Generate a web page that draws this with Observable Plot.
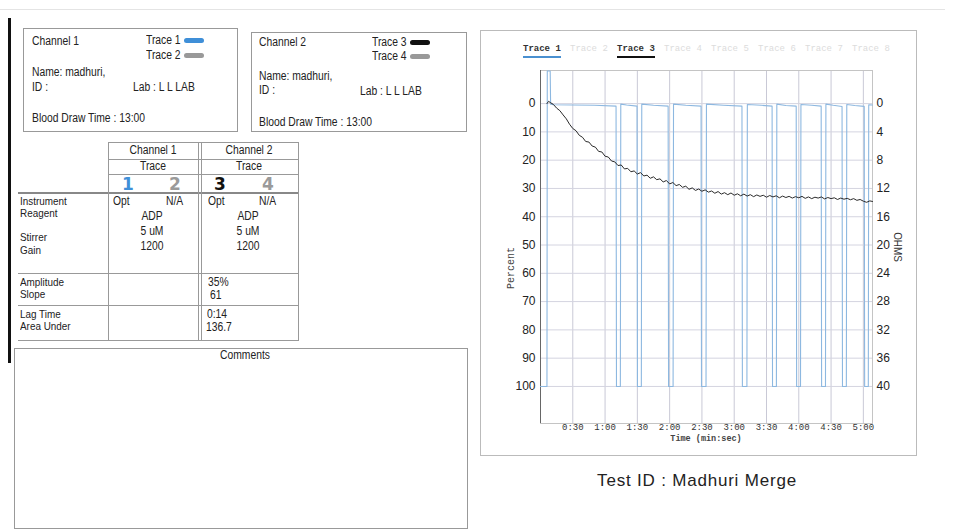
<!DOCTYPE html>
<html>
<head>
<meta charset="utf-8">
<script src="https://cdn.jsdelivr.net/npm/d3@7"></script>
<script src="https://cdn.jsdelivr.net/npm/@observablehq/plot@0.6"></script>
<style>
  html, body { margin: 0; padding: 0; background: #fff; }
  #page { position: relative; width: 963px; height: 529px; overflow: hidden; background: #fff;
          font-family: "Liberation Sans", sans-serif; color: #222; }
  .t { position: absolute; font-size: 12px; line-height: 13px; white-space: nowrap; transform: scaleX(0.86); transform-origin: 0 50%; }
  .s { font-size: 11.5px; line-height: 11px; }
  .box { position: absolute; border: 1px solid #999; box-sizing: border-box; }
  .hl { position: absolute; height: 0; border-top: 1px solid #999; }
  .vl { position: absolute; width: 0; border-left: 1px solid #999; }
  .sw { position: absolute; height: 5px; width: 20px; border-radius: 3px; }
  .big { position: absolute; font-family: "DejaVu Sans", sans-serif; font-weight: 900; font-size: 17px; line-height: 18px; }
  .leg { position: absolute; font-family: "Liberation Mono", "DejaVu Sans Mono", monospace; font-size: 9px; font-weight: bold; line-height: 10px; white-space: nowrap; }
  .t.c { transform: translateX(-50%) scaleX(0.86); transform-origin: 50% 50%; }
  .leg.c { transform: translateX(-50%); }
</style>
</head>
<body>
<div id="page">
  <!-- scan artifacts -->
  <div style="position:absolute;left:0;top:9px;width:945px;height:1px;background:#e4e4e4"></div>
  <div style="position:absolute;left:8px;top:18px;width:3px;height:345px;background:#111"></div>

  <!-- Channel 1 box -->
  <div class="box" style="left:23px;top:28px;width:215px;height:104px"></div>
  <div class="t" style="left:32px;top:35px">Channel 1</div>
  <div class="t" style="left:146px;top:34px">Trace 1</div>
  <div class="sw" style="left:184px;top:38px;background:#3f8fd8"></div>
  <div class="t" style="left:146px;top:49px">Trace 2</div>
  <div class="sw" style="left:184px;top:53px;background:#999"></div>
  <div class="t" style="left:32px;top:66px">Name: madhuri,</div>
  <div class="t" style="left:32px;top:81px">ID :</div>
  <div class="t" style="left:133px;top:81px">Lab : L L LAB</div>
  <div class="t" style="left:32px;top:112px">Blood Draw Time : 13:00</div>

  <!-- Channel 2 box -->
  <div class="box" style="left:251px;top:32px;width:216px;height:100px"></div>
  <div class="t" style="left:259px;top:36px">Channel 2</div>
  <div class="t" style="left:372px;top:36px">Trace 3</div>
  <div class="sw" style="left:410px;top:40px;background:#111"></div>
  <div class="t" style="left:372px;top:50px">Trace 4</div>
  <div class="sw" style="left:410px;top:54px;background:#999"></div>
  <div class="t" style="left:259px;top:70px">Name: madhuri,</div>
  <div class="t" style="left:259px;top:84px">ID :</div>
  <div class="t" style="left:360px;top:85px">Lab : L L LAB</div>
  <div class="t" style="left:259px;top:116px">Blood Draw Time : 13:00</div>

  <!-- Parameter table -->
  <div class="hl" style="left:108px;top:142px;width:191px"></div>
  <div class="hl" style="left:108px;top:159px;width:191px"></div>
  <div class="hl" style="left:108px;top:174px;width:191px"></div>
  <div class="hl" style="left:18px;top:192px;width:281px;border-top:2px solid #888"></div>
  <div class="hl" style="left:18px;top:273px;width:281px"></div>
  <div class="hl" style="left:18px;top:305px;width:281px"></div>
  <div class="hl" style="left:18px;top:340px;width:281px"></div>
  <div class="vl" style="left:108px;top:142px;height:199px"></div>
  <div class="vl" style="left:198px;top:142px;height:199px"></div>
  <div class="vl" style="left:201px;top:142px;height:199px"></div>
  <div class="vl" style="left:298px;top:142px;height:199px"></div>

  <div class="t c" style="left:153px;top:144px">Channel 1</div>
  <div class="t c" style="left:153px;top:160px">Trace</div>
  <div class="big" style="left:122px;top:175px;color:#3f8fd8">1</div>
  <div class="big" style="left:169px;top:175px;color:#9a9a9a">2</div>
  <div class="t c" style="left:249px;top:144px">Channel 2</div>
  <div class="t c" style="left:249px;top:160px">Trace</div>
  <div class="big" style="left:214px;top:175px;color:#111">3</div>
  <div class="big" style="left:262px;top:175px;color:#9a9a9a">4</div>

  <div class="t s" style="left:20px;top:196px">Instrument</div>
  <div class="t s" style="left:20px;top:208px">Reagent</div>
  <div class="t s" style="left:20px;top:232px">Stirrer</div>
  <div class="t s" style="left:20px;top:245px">Gain</div>
  <div class="t s" style="left:20px;top:277px">Amplitude</div>
  <div class="t s" style="left:20px;top:289px">Slope</div>
  <div class="t s" style="left:20px;top:309px">Lag Time</div>
  <div class="t s" style="left:20px;top:321px">Area Under</div>

  <div class="t" style="left:113px;top:195px">Opt</div>
  <div class="t" style="left:166px;top:195px">N/A</div>
  <div class="t c" style="left:152px;top:210px">ADP</div>
  <div class="t c" style="left:152px;top:225px">5 uM</div>
  <div class="t c" style="left:152px;top:240px">1200</div>

  <div class="t" style="left:208px;top:195px">Opt</div>
  <div class="t" style="left:259px;top:195px">N/A</div>
  <div class="t c" style="left:248px;top:210px">ADP</div>
  <div class="t c" style="left:248px;top:225px">5 uM</div>
  <div class="t c" style="left:248px;top:240px">1200</div>

  <div class="t" style="left:208px;top:276px">35%</div>
  <div class="t" style="left:210px;top:289px">61</div>
  <div class="t" style="left:207px;top:308px">0:14</div>
  <div class="t" style="left:206px;top:321px">136.7</div>

  <!-- Comments -->
  <div class="box" style="left:14px;top:348px;width:454px;height:181px"></div>
  <div class="t c" style="left:245px;top:349px">Comments</div>

  <!-- Chart panel -->
  <div class="box" style="left:480px;top:30px;width:437px;height:426px;border-color:#bbb"></div>
  <div id="legend"></div>
  <div id="chart" style="position:absolute;left:480px;top:30px"></div>
  <div class="leg" style="left:512px;top:268px;transform:translate(-50%,-50%) rotate(-90deg);font-weight:normal;font-size:10px;color:#444">Percent</div>
  <div style="position:absolute;left:898px;top:247px;transform:translate(-50%,-50%) rotate(90deg) scaleX(0.9);font-size:11px;line-height:12px;color:#333">OHMS</div>
  <div class="leg c" style="left:706px;top:434px;font-size:8.5px;color:#444">Time (min:sec)</div>

  <div style="position:absolute;left:697px;top:471px;transform:translateX(-50%);font-family:'Liberation Sans',sans-serif;font-size:17px;letter-spacing:0.8px;white-space:nowrap;color:#222">Test ID : Madhuri Merge</div>
</div>

<script>
// ---------------- data ----------------
const legendNames = ["Trace 1","Trace 2","Trace 3","Trace 4","Trace 5","Trace 6","Trace 7","Trace 8"];
const legendActive = [true,false,true,false,false,false,false,false];
const legendColors = ["#4a90d0",null,"#111",null,null,null,null,null];

const percentTicks = [0,10,20,30,40,50,60,70,80,90,100];
const ohmsTicks = [0,4,8,12,16,20,24,28,32,36,40];
const timeTicks = [30,60,90,120,150,180,210,240,270,300];
const timeLabels = ["0:30","1:00","1:30","2:00","2:30","3:00","3:30","4:00","4:30","5:00"];

// Trace 1 (blue, optical baseline with periodic dropouts) : time s, percent
const trace1Time = [0,6,6.3,9,9.4,12,30,50,70.2,70.6,74.2,74.6,80,89.7,90.1,93.7,94.1,105,118.6,119,123.2,123.6,135,149.2,149.6,153.8,154.2,170,187.2,187.6,191.8,192.2,205,215.2,215.6,219.2,219.6,228,237.6,238,241.6,242,252,260.8,261.2,264.8,265.2,272,280.2,280.6,284.2,284.6,292,300.8,301.2,304.6,305,308.5];
const trace1Pct  = [100,100,-11.5,-11.5,0.2,0.4,0.5,0.6,0.9,100,100,0.2,0.5,0.9,100,100,0.2,0.6,0.9,100,100,0.2,0.6,0.9,100,100,0.2,0.6,0.9,100,100,0.3,0.6,0.9,100,100,0.2,0.7,0.9,100,100,0.3,0.6,0.9,100,100,0.2,0.6,1.0,100,100,0.3,0.7,1.0,100,100,0.4,0.5];

// Trace 3 (black, aggregation curve) : time s, percent
const trace3Time = [6,7.5,9,12,15,18,21,24,27,30,33,36,39,42,45,48,51,54,57,60,63,66,69,72,75,78,81,84,87,90,93,96,99,102,105,108,111,114,117,120,123,126,129,132,135,138,141,144,147,150,153,156,159,162,165,168,171,174,177,180,183,186,189,192,195,198,201,204,207,210,213,216,219,222,225,228,231,234,237,240,243,246,249,252,255,258,261,264,267,270,273,276,279,282,285,288,291,294,297,300,303,306,308.5];
const trace3Pct  = [0,-0.8,-0.4,0.3,1.6,2.5,4.0,5.4,7.3,8.8,9.6,11.2,11.9,13.4,13.6,15.0,15.4,16.9,17.1,18.6,18.9,20.3,20.6,21.9,21.7,23.1,22.9,24.1,23.8,24.9,24.4,25.6,25.3,26.4,25.9,26.9,26.6,27.7,27.2,28.4,27.9,29.0,28.6,29.6,29.2,30.3,29.8,30.7,30.2,31.0,30.5,31.3,30.9,31.7,31.1,32.0,31.5,32.2,31.6,32.4,31.9,32.6,32.0,32.7,32.2,32.9,32.3,32.8,32.4,33.1,32.5,33.0,32.6,33.3,32.7,33.2,32.8,33.4,32.9,33.3,32.8,33.5,33.0,33.6,33.1,33.4,33.0,33.7,33.2,33.6,33.3,33.9,33.4,33.8,33.5,34.0,33.6,34.2,33.9,34.5,34.9,34.4,34.6];

// ---------------- legend ----------------
const legend = document.getElementById("legend");
legendNames.forEach((n, i) => {
  const d = document.createElement("div");
  d.className = "leg";
  d.textContent = n;
  d.style.left = (523 + i * 47) + "px";
  d.style.top = "44px";
  d.style.color = legendActive[i] ? "#333" : "#dcdcdc";
  d.style.fontWeight = legendActive[i] ? "bold" : "normal";
  if (legendColors[i]) {
    d.style.borderBottom = "2px solid " + legendColors[i];
    d.style.paddingBottom = "2px";
  }
  legend.appendChild(d);
});

// ---------------- chart ----------------
const t1 = trace1Time.map((t, i) => ({t, p: trace1Pct[i]}));
const t3 = trace3Time.map((t, i) => ({t, p: trace3Pct[i]}));
const ohmsPos = ohmsTicks.map(o => o / 0.4);

const chart = Plot.plot({
  width: 437, height: 426,
  marginLeft: 60, marginRight: 45, marginTop: 40, marginBottom: 33,
  style: {background: "transparent", fontFamily: "'Liberation Sans', sans-serif", overflow: "visible"},
  x: {domain: [0, 308.5]},
  y: {domain: [-11.7, 113.1], reverse: true},
  marks: [
    Plot.gridX(timeTicks, {stroke: "#c9c9d6", strokeOpacity: 1, strokeWidth: 1}),
    Plot.gridY(percentTicks, {stroke: "#d4d4e0", strokeOpacity: 1, strokeWidth: 1}),
    Plot.frame({stroke: "#c4c4c4"}),
    Plot.ruleX([0], {stroke: "#666"}),
    Plot.line(t1, {x: "t", y: "p", stroke: "#8db8e0", strokeWidth: 1.1}),
    Plot.line(t3, {x: "t", y: "p", stroke: "#2a2a2a", strokeWidth: 1}),
    Plot.axisY(percentTicks, {anchor: "left", tickSize: 0, tickPadding: 5, fontSize: 12, fill: "#222", label: null}),
    Plot.axisY(ohmsPos, {anchor: "right", tickSize: 0, tickPadding: 4, fontSize: 12, fill: "#222", label: null,
      tickFormat: d => String(Math.round(d * 0.4))}),
    Plot.axisX(timeTicks, {anchor: "bottom", tickSize: 0, tickPadding: 0, fontSize: 9, fill: "#333",
      fontFamily: "'Liberation Mono', monospace", label: null,
      tickFormat: d => timeLabels[timeTicks.indexOf(d)]})
  ]
});
document.getElementById("chart").appendChild(chart);
</script>
</body>
</html>
